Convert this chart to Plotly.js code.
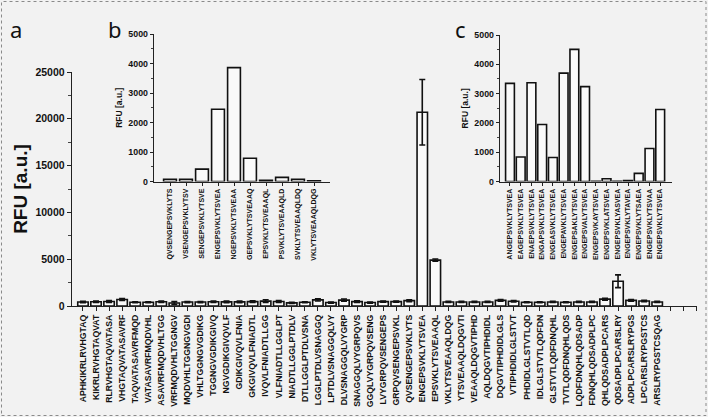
<!DOCTYPE html>
<html><head><meta charset="utf-8">
<script src="https://cdn.plot.ly/plotly-3.0.1.min.js"></script>
<style>html,body{margin:0;padding:0;background:#f2f2f2;}#plot{width:708px;height:417px;}</style>
</head><body><div id="plot"></div>
<script>
const mainLabels = ["APHKIKRLRVHGTAQ","KIKRLRVHGTAQVAT","RLRVHGTAQVATASA","VHGTAQVATASAVRF","TAQVATASAVRFMQD","VATASAVRFMQDVHL","ASAVRFMQDVHLTGG","VRFMQDVHLTGGNGV","MQDVHLTGGNGVGDI","VHLTGGNGVGDIKG","TGGNGVGDIKGIVQ","NGVGDIKGIVQVLF","GDIKGIVQVLFNIA","GKGIVQVLFNIADTL","IVQVLFNIADTLLGG","VLFNIADTLLGGLPT","NIADTLLGGLPTDLV","DTLLGGLPTDLVSNA","LGGLPTDLVSNAGGQ","LPTDLVSNAGGQLVY","DLVSNAGGQLVYGRP","SNAGGQLVYGRPQVS","GGQLVYGRPQVSENG","LVYGRPQVSENGEPS","GRPQVSENGEPSVKL","QVSENGEPSVKLYTS","ENGEPSVKLYTSVEA","EPSVKLYTSVEAAQL","VKLYTSVEAAQLDQG","YTSVEAAQLDQGVTI","VEAAQLDQGVTIPHD","AQLDQGVTIPHDIDL","DQGVTIPHDIDLGLS","VTIPHDIDLGLSTVT","PHDIDLGLSTVTLQD","IDLGLSTVTLQDFDN","GLSTVTLQDFDNQHL","TVTLQDFDNQHLQDS","LQDFDNQHLQDSADP","FDNQHLQDSADPLPC","QHLQDSADPLPCARS","QDSADPLPCARSLRY","ADPLPCARSLRYPGS","LPCARSLRYPGSTCS","ARSLRYPGSTCSQAG"];
const mainValues = [430,450,480,700,400,400,450,320,420,420,460,440,440,470,520,480,330,400,650,370,630,470,370,470,470,570,20700,4900,430,430,430,430,600,500,400,400,430,400,430,430,730,2640,600,530,430];
const mainErrors = [80,80,90,100,60,60,80,150,60,60,80,80,80,80,150,100,60,60,120,60,120,80,60,60,60,100,3500,120,60,60,60,60,100,80,60,60,60,60,60,60,100,680,100,80,60];
const mainTicks = [0, 5000, 10000, 15000, 20000, 25000];

const bLabels = ["QVSENGEPSVKLYTS","VSENGEPSVKLYTSV","SENGEPSVKLYTSVE","ENGEPSVKLYTSVEA","NGEPSVKLYTSVEAA","GEPSVKLYTSVEAAQ","EPSVKLYTSVEAAQL","PSVKLYTSVEAAQLD","SVKLYTSVEAAQLDQ","VKLYTSVEAAQLDQG"];
const bValues = [75,75,420,2450,3860,790,40,140,75,20];

const cLabels = ["ANGEPSVKLYTSVEA","EAGEPSVKLYTSVEA","ENAEPSVKLYTSVEA","ENGAPSVKLYTSVEA","ENGEASVKLYTSVEA","ENGEPAVKLYTSVEA","ENGEPSAKLYTSVEA","ENGEPSVALYTSVEA","ENGEPSVKAYTSVEA","ENGEPSVKLATSVEA","ENGEPSVKLYASVEA","ENGEPSVKLYTAVEA","ENGEPSVKLYTSAEA","ENGEPSVKLYTSVAA","ENGEPSVKLYTSVEA"];
const cValues = [3350,840,3370,1950,820,3700,4510,3240,10,95,8,40,280,1130,2460];
const insetTicks = [0, 1000, 2000, 3000, 4000, 5000];

const W = 708, H = 417;
const fx = p => p / W;
const fy = p => 1 - p / H;
const FONT = "Liberation Sans, Arial, sans-serif";
const idx = arr => arr.map((_, i) => i);
const bold = arr => arr.map(s => s === '' ? '' : '<b>' + s + '</b>');

const barStyle = {color: '#fafafa', line: {color: '#111', width: 1.6}};

const traces = [
  {type: 'bar', x: idx(mainLabels), y: mainValues, width: 0.8, marker: barStyle,
   error_y: {type: 'data', array: mainErrors, visible: true, color: '#111', thickness: 1.6, width: 3},
   xaxis: 'x', yaxis: 'y', hoverinfo: 'none'},
  {type: 'bar', x: idx(bLabels), y: bValues, width: 0.8, marker: barStyle, xaxis: 'x2', yaxis: 'y2', hoverinfo: 'none'},
  {type: 'bar', x: idx(cLabels), y: cValues, width: 0.82, marker: barStyle, xaxis: 'x3', yaxis: 'y3', hoverinfo: 'none'}
];

const extraTicks = [45, 46, 47];
const axisCommon = {showline: true, linecolor: '#222', linewidth: 1.3, ticks: 'outside', tickcolor: '#222',
  showgrid: false, zeroline: false, tickangle: -90, fixedrange: true};
const yCommon = {showline: true, linecolor: '#222', linewidth: 1.3, ticks: 'outside', tickcolor: '#222',
  showgrid: false, zeroline: false, tickmode: 'array'};
const panelFont = {size: 22, family: 'Noto Sans, sans-serif', color: '#111'};

const layout = {
  width: W, height: H, margin: {l: 0, r: 0, t: 0, b: 0},
  paper_bgcolor: '#f2f2f2', plot_bgcolor: 'rgba(0,0,0,0)', showlegend: false, bargap: 0,
  font: {family: FONT, color: '#111'},
  xaxis: Object.assign({}, axisCommon, {domain: [fx(72), fx(697)], range: [-0.84, 47.05],
    tickmode: 'array', tickvals: idx(mainLabels).concat(extraTicks), ticktext: bold(mainLabels).concat(['', '', '']),
    ticklen: 4, tickfont: {size: 8.7, family: FONT}, anchor: 'y'}),
  yaxis: Object.assign({}, yCommon, {domain: [fy(306), fy(72)], range: [0, 25000], ticklen: 4,
    tickvals: mainTicks, ticktext: bold(mainTicks.map(String)),
    minor: {tickmode: 'linear', tick0: 0, dtick: 2500, ticks: 'outside', ticklen: 3, tickcolor: '#444', showgrid: false},
    tickfont: {size: 10.5, family: FONT}, anchor: 'x',
    title: {text: '<b>RFU [a.u.]</b>', font: {size: 19, family: FONT}, standoff: 2}}),
  xaxis2: Object.assign({}, axisCommon, {domain: [fx(154), fx(330)], range: [-1, 10],
    tickmode: 'array', tickvals: idx(bLabels), ticktext: bold(bLabels), ticklen: 3,
    tickfont: {size: 7, family: FONT}, anchor: 'y2'}),
  yaxis2: Object.assign({}, yCommon, {domain: [fy(181.5), fy(34)], range: [0, 5000], ticklen: 3,
    tickvals: insetTicks, ticktext: bold(insetTicks.map(String)),
    minor: {tickmode: 'linear', tick0: 0, dtick: 500, ticks: 'outside', ticklen: 2, tickcolor: '#444', showgrid: false},
    tickfont: {size: 8.8, family: FONT}, anchor: 'x2',
    title: {text: '<b>RFU [a.u.]</b>', font: {size: 8.5, family: FONT}, standoff: 4}}),
  xaxis3: Object.assign({}, axisCommon, {domain: [fx(500), fx(672)], range: [-0.93, 15.1],
    tickmode: 'array', tickvals: idx(cLabels), ticktext: bold(cLabels), ticklen: 3,
    tickfont: {size: 7, family: FONT}, anchor: 'y3'}),
  yaxis3: Object.assign({}, yCommon, {domain: [fy(181.6), fy(35)], range: [0, 5000], ticklen: 3,
    tickvals: insetTicks, ticktext: bold(insetTicks.map(String)),
    minor: {tickmode: 'linear', tick0: 0, dtick: 500, ticks: 'outside', ticklen: 2, tickcolor: '#444', showgrid: false},
    tickfont: {size: 8.8, family: FONT}, anchor: 'x3',
    title: {text: '<b>RFU [a.u.]</b>', font: {size: 8.5, family: FONT}, standoff: 4}}),
  annotations: [
    {text: 'a', xref: 'paper', yref: 'paper', x: fx(16), y: fy(29), xanchor: 'center', yanchor: 'middle', showarrow: false, font: panelFont},
    {text: 'b', xref: 'paper', yref: 'paper', x: fx(115), y: fy(29), xanchor: 'center', yanchor: 'middle', showarrow: false, font: panelFont},
    {text: 'c', xref: 'paper', yref: 'paper', x: fx(460), y: fy(29), xanchor: 'center', yanchor: 'middle', showarrow: false, font: panelFont}
  ],
  shapes: [
    {type: 'rect', xref: 'paper', yref: 'paper', x0: fx(1.5), x1: fx(706), y0: fy(415.5), y1: fy(1.5),
     line: {color: '#8a8a8a', width: 1, dash: 'dot'}, fillcolor: 'rgba(0,0,0,0)'}
  ]
};

Plotly.newPlot('plot', traces, layout, {displayModeBar: false, staticPlot: true});
</script>
</body></html>
